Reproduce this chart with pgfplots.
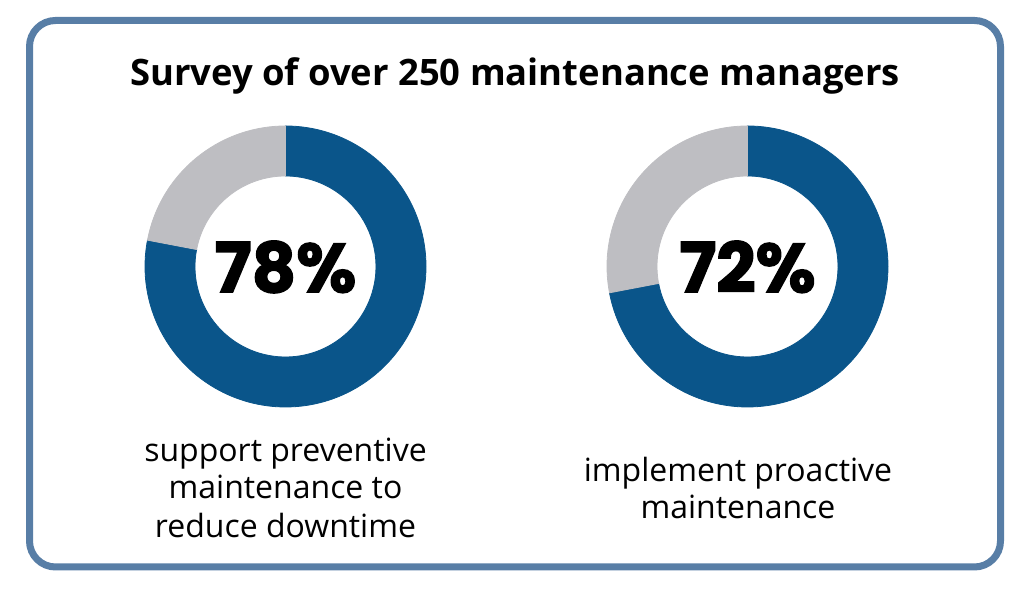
\documentclass[border=0pt]{standalone}
\usepackage{pgfplots}
\pgfplotsset{compat=1.18}
\usepackage{pgfplotstable}
\usepackage{fontspec}
\setmainfont{Open Sans}
\newfontfamily\numfont{Poppins}[BoldFeatures={FakeBold=2}]

\definecolor{ringblue}{RGB}{10,85,138}
\definecolor{ringgray}{RGB}{190,190,194}
\definecolor{framecol}{RGB}{88,126,166}

% centre of each ring (x, y from bottom, in px of a 1024x597 sheet) and share
\pgfplotstableread{
x      y      pct
285.5  330.5  78
747.5  330.5  72
}\survey

% a ring whose blue part is \pct percent, starting at 12 o'clock
\pgfdeclareplotmark{ring}{%
  \pgfmathsetmacro\endang{90-3.6*\pct}%
  \pgfmathtruncatemacro\pctint{round(\pct)}%
  \fill[ringblue] (90:70.25pt) arc[start angle=90, end angle=\endang, radius=70.25pt]
    -- (\endang:45.25pt) arc[start angle=\endang, end angle=90, radius=45.25pt] -- cycle;
  \fill[ringgray] (\endang:70.25pt) arc[start angle=\endang, end angle=-270, radius=70.25pt]
    -- (-270:45.25pt) arc[start angle=-270, end angle=\endang, radius=45.25pt] -- cycle;
  \node[black, font=\numfont\bfseries\fontsize{34.5}{40}\selectfont, anchor=center,
    text depth=0pt, inner sep=0pt] at (0,0) {\pctint\%};
}

\begin{document}
\begin{tikzpicture}
\begin{axis}[
    width=512pt, height=298.5pt, scale only axis,
    xmin=0, xmax=1024, ymin=0, ymax=597,
    hide axis, clip=false,
  ]
  \path (rel axis cs:0,0) rectangle (rel axis cs:1,1);
  \draw[framecol, line width=3.5pt, rounded corners=13pt]
    (axis cs:29.5,30) rectangle (axis cs:1000.5,576.5);
  \node[font=\fontsize{18.2}{22}\selectfont\bfseries, anchor=base, inner sep=0pt]
    at (axis cs:515,511) {Survey of over 250 maintenance managers};

  \addplot[only marks, mark=ring,
    visualization depends on={\thisrow{pct}\as\pct},
  ] table[x=x, y=y] {\survey};

  \begin{scope}[font=\fontsize{16}{19}\selectfont, anchor=base, inner sep=0pt]
    \node at (axis cs:285.5,135.3) {support preventive};
    \node at (axis cs:285.5,98) {maintenance to};
    \node at (axis cs:285.5,59) {reduce downtime};
    \node at (axis cs:738,115.3) {implement proactive};
    \node at (axis cs:738,78.7) {maintenance};
  \end{scope}
\end{axis}
\end{tikzpicture}
\end{document}
